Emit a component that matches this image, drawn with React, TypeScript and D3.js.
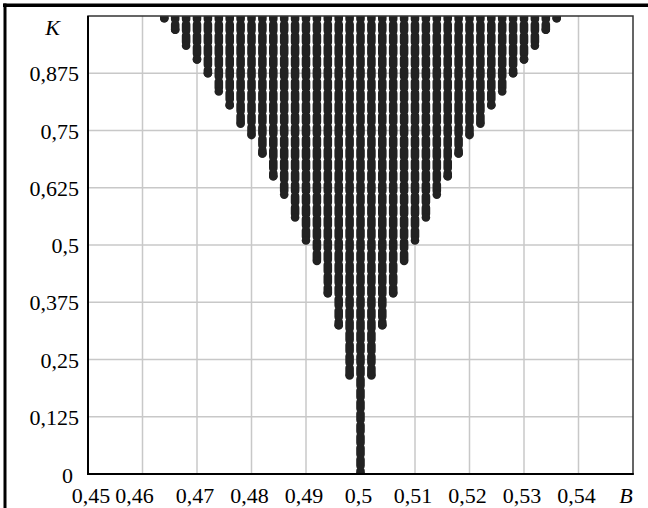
import * as d3 from 'd3';

// scan columns (B) and the lowest K reached in each column
const bValues = [
  0.464, 0.466, 0.468, 0.47, 0.472, 0.474, 0.476, 0.478, 0.48, 0.482, 0.484, 0.486, 0.488,
  0.49, 0.492, 0.494, 0.496, 0.498, 0.5, 0.502, 0.504, 0.506, 0.508, 0.51, 0.512, 0.514,
  0.516, 0.518, 0.52, 0.522, 0.524, 0.526, 0.528, 0.53, 0.532, 0.534, 0.536,
];
const kMin = [
  0.995, 0.97, 0.935, 0.905, 0.875, 0.835, 0.805, 0.765, 0.74, 0.7, 0.65, 0.61, 0.56,
  0.51, 0.465, 0.395, 0.325, 0.215, 0, 0.215, 0.325, 0.395, 0.465, 0.51, 0.56, 0.61,
  0.65, 0.7, 0.74, 0.765, 0.805, 0.835, 0.875, 0.905, 0.935, 0.97, 0.995,
];
const kMax = 1;
const kStep = 0.025; // spacing of the scan in K

const xTicks = [0.45, 0.46, 0.47, 0.48, 0.49, 0.5, 0.51, 0.52, 0.53, 0.54];
const xTickLabels = ['0,45', '0,46', '0,47', '0,48', '0,49', '0,5', '0,51', '0,52', '0,53', '0,54'];
const yTicks = [0, 0.125, 0.25, 0.375, 0.5, 0.625, 0.75, 0.875];
const yTickLabels = ['0', '0,125', '0,25', '0,375', '0,5', '0,625', '0,75', '0,875'];

const W = 648;
const H = 508;
const margin = { top: 16, right: 15, bottom: 34, left: 88 };
const font = "'Liberation Serif', 'Times New Roman', serif";

export default function App() {
  const x = d3.scaleLinear().domain([0.45, 0.55]).range([margin.left, W - margin.right]);
  const y = d3.scaleLinear().domain([0, 1]).range([H - margin.bottom, margin.top]);
  const [x0, x1] = x.range();
  const [y0, y1] = y.range();

  const period = y(0) - y(kStep);
  const gap = 4.9;
  const dash = period - gap;
  const r = 4.3;

  const cols = bValues.map((b, i) => ({ b, k: kMin[i] }));

  return (
    <svg
      width={W}
      height={H}
      style={{ position: 'absolute', left: 0, top: 0, background: '#fff', fontFamily: font }}
    >
      <defs>
        <clipPath id="plot">
          <rect x={x0} y={y1} width={x1 - x0} height={y0 - y1} />
        </clipPath>
      </defs>

      {/* outer frame (top / left) */}
      <line x1={3} x2={W} y1={5.3} y2={5.3} stroke="#000" strokeWidth={3.5} />
      <line x1={5} x2={5} y1={3.5} y2={H} stroke="#000" strokeWidth={3} />

      {/* grid */}
      <g stroke="#c8c8c8" strokeWidth={1.5}>
        {xTicks.slice(1).map(t => (
          <line key={'gx' + t} x1={x(t)} x2={x(t)} y1={y1} y2={y0} />
        ))}
        {yTicks.slice(1).map(t => (
          <line key={'gy' + t} x1={x0} x2={x1} y1={y(t)} y2={y(t)} />
        ))}
      </g>

      {/* scan columns */}
      <g clipPath="url(#plot)" fill="#222" stroke="#222">
        {cols.map(c => (
          <g key={c.b}>
            <line
              x1={x(c.b)}
              x2={x(c.b)}
              y1={y(kMax)}
              y2={y(c.k)}
              strokeWidth={2 * r}
              strokeLinecap="round"
              strokeDasharray={`${dash} ${gap}`}
              strokeDashoffset={dash / 2}
            />
            <circle cx={x(c.b)} cy={y(c.k)} r={r} stroke="none" />
          </g>
        ))}
      </g>

      {/* plot frame */}
      <rect x={x0} y={y1} width={x1 - x0} height={y0 - y1} fill="none" stroke="#333" strokeWidth={1.5} />
      <line x1={x0} x2={x0} y1={y1} y2={y0 + 1} stroke="#000" strokeWidth={2} />
      <line x1={x0 - 1} x2={x1 + 0.75} y1={y0} y2={y0} stroke="#000" strokeWidth={2} />

      {/* y tick labels */}
      <g style={{ fontSize: '22px' }} fill="#000" textAnchor="end">
        {yTicks.map((t, i) => (
          <text key={'yl' + t} x={i === 0 ? 73 : 79} y={y(t) + (i === 0 ? 9 : 8)}>
            {yTickLabels[i]}
          </text>
        ))}
        <text x={60} y={35} fontStyle="italic">K</text>
      </g>

      {/* x tick labels */}
      <g style={{ fontSize: '22px' }} fill="#000" textAnchor="middle">
        {xTicks.map((t, i) => (
          <text
            key={'xl' + t}
            x={x(t) + (i === 0 ? 3 : i === 1 ? -8 : -2)}
            y={503}
          >
            {xTickLabels[i]}
          </text>
        ))}
        <text x={626} y={503} fontStyle="italic">B</text>
      </g>
    </svg>
  );
}
